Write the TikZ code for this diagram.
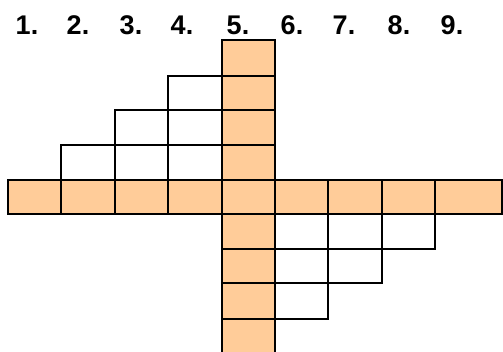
\documentclass[tikz,border=0pt]{standalone}
\usepackage{fontspec}
\setmainfont{Liberation Sans}
\definecolor{cworange}{HTML}{FFCC99}

\begin{document}
\begin{tikzpicture}[x=1pt, y=-1pt,
    cell/.style={draw=black, line width=1.6pt, fill=white},
    keycell/.style={draw=black, line width=1.6pt, fill=cworange},
    num/.style={font=\bfseries\fontsize{27}{27}\selectfont, inner sep=0pt}]
  \useasboundingbox (0,0) rectangle (503,351);
  \clip (0,0) rectangle (503,351);
  % column numbers
  \foreach \i/\x in {1/27, 2/78, 3/131, 4/182, 5/238, 6/292, 7/344, 8/399, 9/452}
    \node[num] (n\i) at (\x,25) {\i.};
  % upper left staircase
  \foreach \xa/\xb/\ya/\yb in {168/222/76/110,
      115/168/110/145, 168/222/110/145,
      61/115/145/180, 115/168/145/180, 168/222/145/180}
    \draw[cell] (\xa,\ya) rectangle (\xb,\yb);
  % lower right staircase
  \foreach \xa/\xb/\ya/\yb in {275/328/214/249, 328/382/214/249, 382/435/214/249,
      275/328/249/283, 328/382/249/283,
      275/328/283/319}
    \draw[cell] (\xa,\ya) rectangle (\xb,\yb);
  % horizontal word
  \foreach \xa/\xb in {8/61, 61/115, 115/168, 168/222, 275/328, 328/382, 382/435, 435/502}
    \draw[keycell] (\xa,180) rectangle (\xb,214);
  % vertical word (column 5)
  \foreach \ya/\yb in {40/76, 76/110, 110/145, 145/180, 180/214, 214/249, 249/283, 283/319, 319/356}
    \draw[keycell] (222,\ya) rectangle (275,\yb);
\end{tikzpicture}
\end{document}
